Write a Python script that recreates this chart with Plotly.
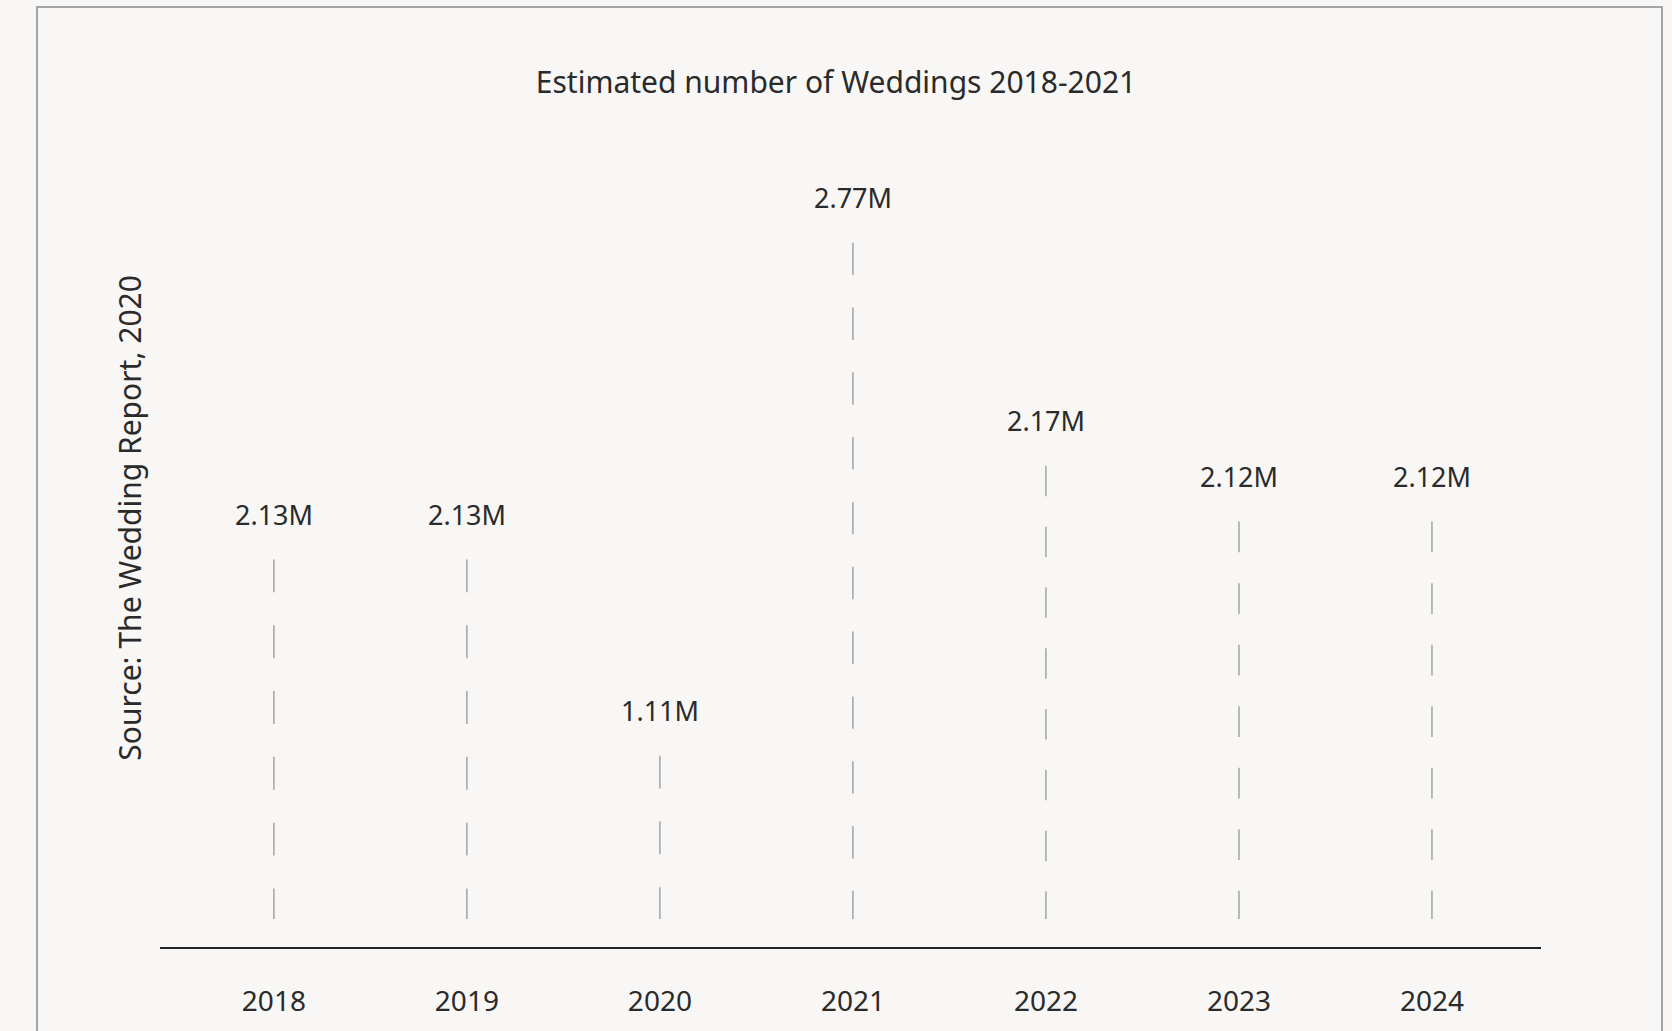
import plotly.graph_objects as go

# ---- data ----
years = ["2018", "2019", "2020", "2021", "2022", "2023", "2024"]
weddings_millions = [2.13, 2.13, 1.11, 2.77, 2.17, 2.12, 2.12]
# stem height of each year's dashed line (chart units)
stem_height = [389, 389, 192, 707, 483, 427, 427]
stem_base = 28

title_text = "Estimated number of Weddings 2018-2021"
source_text = "Source: The Wedding Report, 2020"

FONT = "Noto Sans"
TEXT = "#2a2a2a"
BG = "#f8f7f5"

L, R, T, B = 160, 131, 150, 79
W, H = 1672, 1031
pw, ph = W - L - R, H - T - B
YMAX = 800
px_per_unit = ph / YMAX

fig = go.Figure()
xs = list(range(len(years)))
for i, h in zip(xs, stem_height):
    # dash pattern fitted so the stem starts and ends with a dash
    length_px = (h - stem_base) * px_per_unit
    n = max(1, int(length_px / 65 + 0.5 + 0.5))
    period = length_px / (n - 0.5)
    dash_len = period / 2
    fig.add_trace(go.Scatter(
        x=[i, i], y=[h, stem_base], mode="lines",
        line=dict(color="#a3a3a3", width=1.5,
                  dash=f"{dash_len:.2f}px,{period - dash_len:.2f}px"),
        hoverinfo="skip", showlegend=False,
    ))

for i, (h, v) in enumerate(zip(stem_height, weddings_millions)):
    fig.add_annotation(
        x=i, y=h, text=f"{v:.2f}M", showarrow=False,
        yanchor="middle", yshift=45,
        font=dict(family=FONT, size=27, color=TEXT),
    )


def px_x(p):
    return (p - L) / pw


def px_y(p):
    return (H - B - p) / ph


fig.add_shape(
    type="rect", xref="paper", yref="paper",
    x0=px_x(37), x1=px_x(1662), y0=px_y(1100), y1=px_y(6),
    line=dict(color="#8a8a8a", width=1.5), fillcolor="rgba(0,0,0,0)",
    layer="below",
)

fig.add_annotation(
    xref="paper", yref="paper", x=px_x(130), y=px_y(520),
    text=source_text, textangle=-90, showarrow=False,
    xanchor="center", yanchor="middle",
    font=dict(family=FONT, size=30, color=TEXT),
)

fig.update_layout(
    width=W, height=H,
    margin=dict(l=L, r=R, t=T, b=B),
    paper_bgcolor=BG, plot_bgcolor=BG,
    font=dict(family=FONT, color=TEXT),
    title=dict(
        text=title_text, x=0.5, xref="container", xanchor="center",
        y=1 - 82 / H, yref="container", yanchor="middle",
        font=dict(family=FONT, size=30, color=TEXT),
    ),
    xaxis=dict(
        tickmode="array", tickvals=xs, ticktext=years,
        range=[-0.59, 6.565], showgrid=False, zeroline=False,
        showline=True, linecolor="#222222", linewidth=2,
        ticks="", ticklabelstandoff=28,
        tickfont=dict(family=FONT, size=28, color=TEXT),
        fixedrange=True,
    ),
    yaxis=dict(
        range=[0, YMAX], showgrid=False, zeroline=False, showline=False,
        showticklabels=False, ticks="", fixedrange=True,
    ),
)

fig.write_html("out.html")
